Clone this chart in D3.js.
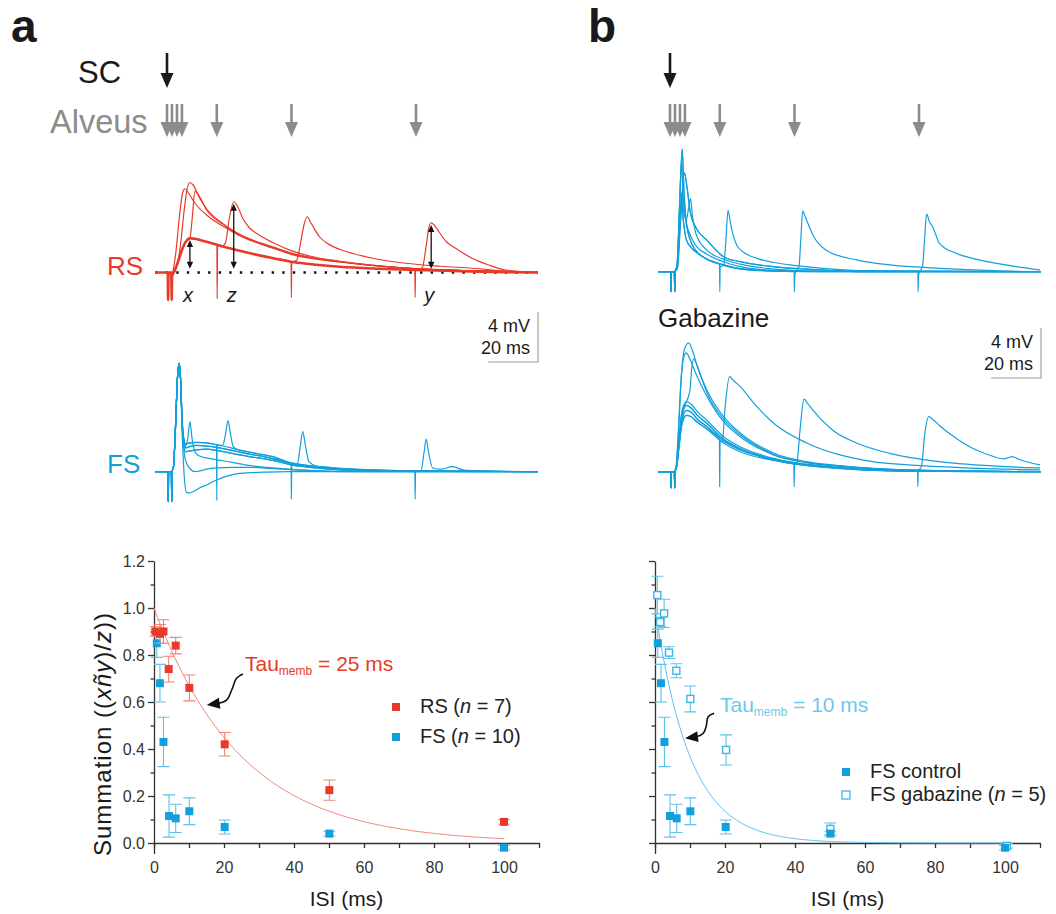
<!DOCTYPE html>
<html lang="en">
<head>
<meta charset="UTF-8">
<title>RS / FS summation</title>
<script src="https://d3js.org/d3.v7.min.js"></script>
<style>
  body { margin: 0; background: #fff; }
  svg { font-family: Arial, "Liberation Sans", sans-serif; }
  .axis text { font-size: 16px; fill: #333; }
  .axis path, .axis line { stroke: #333; stroke-width: 1.3; }
</style>
</head>
<body>
<div id="chart"></div>
<script>
// ---- summation vs ISI (ms) ----
const rsIsi = [0.4, 1.7, 2.7, 4.2, 6.2, 10.1, 20.2, 50.1, 100];
const rsSum = [0.90, 0.89, 0.90, 0.74, 0.84, 0.66, 0.42, 0.225, 0.09];
const rsErr = [0.02, 0.04, 0.05, 0.055, 0.035, 0.055, 0.05, 0.043, 0.01];

const fsIsi = [0.8, 1.7, 2.7, 4.3, 6.2, 10.1, 20.2, 50.1, 100];
const fsSum = [0.85, 0.68, 0.43, 0.115, 0.105, 0.135, 0.068, 0.04, -0.02];
const fsErr = [0.06, 0.08, 0.105, 0.09, 0.06, 0.057, 0.03, 0.01, 0.01];

const gbIsi = [0.66, 1.5, 2.6, 4.0, 6.1, 10.1, 20.3, 50.1, 100.5];
const gbSum = [1.055, 0.94, 0.977, 0.81, 0.733, 0.613, 0.396, 0.06, -0.012];
const gbErr = [0.08, 0.02, 0.06, 0.025, 0.03, 0.055, 0.064, 0.025, 0.01];

const tauRS = 25, tauFS = 10;
const sumTicks = [0, 0.2, 0.4, 0.6, 0.8, 1.0, 1.2];
const sumMinor = [0.1, 0.3, 0.5, 0.7, 0.9, 1.1];
const isiTicks = [0, 10, 20, 30, 40, 50, 60, 70, 80, 90, 100, 110];
const isiLabels = [0, 20, 40, 60, 80, 100];

// ---- stimulus times (ms) ----
const scTime = 0;
const alveusTimes = [0, 2, 4, 6, 20, 50, 100];

// ---- traces: [ms, mV] read from the recordings ----
const rsX = [[-4.8,0],[0.3,0],[0.45,-2.2],[0.6,0],[1.75,0],[1.9,-2.2],[2.05,-0.3],[3,0.1],[4.5,0.9],[6,1.8],[7.5,2.45],[9.2,2.74],[11,2.7],[15.9,2.46],[22,2.1],[29.2,1.74],[40,1.25],[49.9,0.86],[60,0.62],[69.2,0.46],[85,0.3],[99.6,0.2],[115,0.12],[130,0.05],[149,0]];
const rsA = [[2.6,0.3],[3.5,1.5],[5,4.5],[6.3,6.4],[7.2,6.7],[8.5,6.4],[11,5.6],[15.9,4.6],[22.5,3.7],[29.2,2.95],[42.5,1.95],[49.9,1.45],[69.2,0.84],[95.9,0.33],[122.5,0.13],[149,0]];
const rsB = [[3,0.2],[4,0.6],[5.3,2],[6.8,4.8],[8,6.6],[9.2,7.2],[10.5,7.0],[13,6.0],[15.9,5.1],[22.5,3.9],[29.2,3.05],[42.5,2.05],[49.9,1.55],[69.2,0.9],[95.9,0.36],[122.5,0.15],[149,0]];
const rsC = [[10.2,4.5],[11.2,6.5],[12.3,6.3],[15.9,5.0],[22.5,3.85],[29.2,3.0],[42.5,2.0],[49.9,1.5],[69.2,0.86],[95.9,0.35],[122.5,0.14],[149,0]];
const rsZ = [[20.05,2.2],[20.15,-2.1],[20.3,2.15],[22,2.08],[23.5,2.4],[25,4.3],[26.8,5.66],[28.3,5.3],[30.5,4.3],[33,3.6],[37,3.0],[42.5,2.4],[49.9,1.75],[60,1.2],[69.2,0.9],[95.9,0.36],[122.5,0.14],[149,0]];
const rs50 = [[49.85,0.86],[49.95,-2.0],[50.1,0.85],[52,0.95],[53.5,2.2],[55,3.8],[56.3,4.46],[58,3.9],[61.2,2.86],[65,2.25],[69.2,1.86],[75,1.5],[82.5,1.14],[95.9,0.74],[110,0.5],[122.5,0.34],[135.9,0.12],[149,0]];
const rs100 = [[99.55,0.2],[99.65,-2.0],[99.8,0.2],[102.5,0.35],[104,2.0],[105.2,3.6],[106.1,3.98],[107.5,3.75],[109.2,3.26],[112,2.5],[115.9,1.94],[122.5,1.14],[129.2,0.6],[135.9,0.2],[149,0]];

const fsPre = [[-4.8,0],[0.35,0],[0.5,-2.4],[0.65,0],[1.75,0],[1.9,-2.4],[2.05,0],[2.6,0.4],[3.4,3.5],[4.2,7.5],[4.9,8.67],[5.5,7.2]];
const fsP1 = [[6.0,4.5],[6.6,2.8],[7.5,2.2],[9,2.3],[12,2.35],[16,2.3],[20,2.15],[25,1.95],[32,1.6],[42.5,1.2],[49.9,0.7],[60,0.42],[69.2,0.27],[85,0.12],[110,0.05],[149,0]];
const fsP2 = [[6.0,4.3],[6.6,2.6],[7.5,1.9],[9,2.0],[12,2.1],[16,2.05],[20,1.95],[25,1.75],[32,1.45],[42.5,1.05],[49.9,0.6],[60,0.35],[69.2,0.2],[85,0.1],[110,0.05],[149,0]];
const fsP3 = [[6.0,4.2],[6.6,2.4],[7.5,1.6],[9,1.65],[12,1.75],[16,1.8],[20,1.7],[25,1.5],[32,1.25],[42.5,0.9],[49.9,0.55],[60,0.3],[69.2,0.15],[90,0.05],[149,0]];
const fs10 = [[6.0,4.5],[6.6,2.8],[7.3,2.0],[8.3,2.6],[9.2,4.0],[10.1,2.6],[11.2,1.6],[13,1.25],[16,1.1],[20,0.95],[26,0.75],[33,0.5],[42.5,0.3],[55,0.12],[75,0],[149,0]];
const fsH1 = [[6.0,3.5],[6.5,1.2],[7.0,-0.6],[7.9,-1.68],[9,-1.7],[10.5,-1.6],[13,-1.3],[15.9,-1.06],[19.9,-0.66],[24,-0.35],[29.3,-0.13],[40,-0.03],[49.3,0],[149,0]];
const fsH2 = [[6.0,4.0],[6.6,2.2],[7.3,1.0],[9,0.3],[11.2,0],[13,0.05],[16,0.2],[20,0.3],[26,0.35],[33,0.35],[42.5,0.25],[55,0.12],[70,0.03],[149,0]];
const fs20 = [[19.9,2.15],[20.0,-2.3],[20.1,2.15],[22.3,2.1],[23.5,3.0],[24.5,4.08],[25.5,3.0],[26.6,2.0],[28,1.8],[32,1.6],[42.5,1.2],[49.9,0.7],[60,0.42],[69.2,0.27],[85,0.12],[110,0.05],[149,0]];
const fs50 = [[49.85,0.6],[49.95,-2.2],[50.1,0.6],[52.3,0.55],[53.5,2.0],[54.5,3.2],[55.5,2.2],[57,0.8],[60,0.45],[69.2,0.25],[85,0.1],[110,0.05],[149,0]];
const fs100 = [[99.55,0],[99.65,-2.2],[99.8,0],[102,0.05],[103.2,1.5],[104.1,2.6],[105,1.6],[106.7,0.3],[110,0.2],[114.5,0.4],[120,0.1],[149,0]];

const ctlPre = [[-4.8,0],[0.3,0],[0.45,-1.6],[0.6,0],[1.75,0],[1.9,-1.6],[2.05,0]];
const ctl1 = [[2.8,0.5],[3.8,5],[4.9,9.8],[5.6,6.5],[6.5,4.0],[8,2.6],[10,1.8],[14.9,1.0],[21.5,0.55],[28.2,0.25],[40,0.08],[55,0],[149,0]];
const ctl2 = [[2.8,0.4],[3.7,4.5],[4.6,8.7],[5.3,6.0],[6.2,4.2],[8,3.0],[10,2.2],[14.9,1.4],[21.5,0.8],[28.2,0.4],[40,0.12],[60,0],[149,0]];
const ctl3 = [[3,0.3],[4.2,4],[5.8,7.9],[6.8,6.8],[8.2,4.7],[10.5,3.5],[14.9,2.5],[21.5,1.2],[28.2,0.8],[41.5,0.4],[60,0.15],[80,0],[149,0]];
const ctl4 = [[2.8,0.3],[3.8,3.2],[4.6,6.3],[5.5,4.8],[6.6,4.2],[7.4,5.0],[8.2,5.87],[9,4.5],[10.5,3.0],[14.9,1.7],[21.5,1.0],[28.2,0.6],[40,0.25],[60,0.05],[149,0]];
const ctl5 = [[2.8,0.3],[3.6,2.5],[4.6,5.5],[5.4,4.0],[6.5,2.6],[8.2,2.0],[11,1.5],[14.9,1.0],[21.5,0.5],[28.2,0.2],[40,0.05],[149,0]];
const ctl20 = [[19.9,0.6],[20.0,-1.6],[20.15,0.4],[21.5,0.5],[22.3,2.0],[23.3,4.88],[24.2,4.0],[24.9,3.3],[26.9,2.1],[30,1.5],[34.9,1.07],[48.2,0.54],[61.5,0.27],[80,0.08],[149,0]];
const ctl50 = [[49.85,0],[49.95,-1.6],[50.1,-0.3],[50.6,0.05],[51.8,0.4],[52.5,2.5],[53.3,4.86],[54.1,4.5],[54.9,4.1],[57.5,2.9],[62.9,1.7],[74.9,0.94],[88.2,0.54],[108.2,0.27],[130,0.08],[149,0]];
const ctl100 = [[99.55,0],[99.65,-1.6],[99.8,-0.3],[100.4,0.05],[101.4,0.4],[102.2,2.5],[103.1,4.6],[104.2,4.0],[105.5,3.6],[108.2,2.27],[114.9,1.47],[121.5,1.07],[134.9,0.54],[148.6,0.14]];

const gbPre = [[-4.8,0],[0.3,0],[0.45,-1.3],[0.6,0],[1.75,0],[1.9,-1.3],[2.05,0]];
const gbBig1 = [[2.6,0.5],[3.5,3.5],[4.5,7.5],[5.8,9.8],[7.5,10.3],[9,9.7],[11,8.4],[14.9,6.5],[21.5,4.4],[28.2,3.1],[41.5,1.5],[54.9,0.8],[70,0.45],[81.5,0.27],[110,0.08],[149,0]];
const gbBig2 = [[2.5,0.5],[3.4,3.5],[4.5,7.5],[5.6,9.2],[6.6,9.5],[8,9.0],[10.5,7.8],[14.9,6.0],[21.5,4.0],[28.2,2.8],[41.5,1.35],[54.9,0.72],[70,0.4],[81.5,0.24],[110,0.07],[149,0]];
const gbBig3 = [[8.0,6.5],[8.8,8.4],[9.5,9.0],[10.5,8.7],[12.5,7.6],[14.9,6.3],[21.5,4.2],[28.2,2.95],[41.5,1.4],[54.9,0.75],[70,0.42],[81.5,0.25],[110,0.07],[149,0]];
const gbS1 = [[2.6,0.4],[3.6,2.5],[4.8,4.8],[6.6,5.6],[8.5,5.4],[11,4.8],[14.9,4.1],[21.5,2.8],[28.2,2.0],[41.5,1.07],[54.9,0.6],[70,0.3],[81.5,0.15],[110,0.03],[149,0]];
const gbS2 = [[2.6,0.4],[3.6,2.3],[4.8,4.5],[6.6,5.3],[8.5,5.1],[11,4.5],[14.9,3.85],[21.5,2.6],[28.2,1.85],[41.5,1.0],[54.9,0.55],[70,0.27],[81.5,0.13],[110,0.02],[149,0]];
const gbS3 = [[2.6,0.35],[3.6,2.1],[4.8,4.1],[6.6,4.9],[8.5,4.75],[11,4.2],[14.9,3.6],[21.5,2.45],[28.2,1.75],[41.5,0.95],[54.9,0.5],[70,0.25],[81.5,0.12],[110,0.02],[149,0]];
const gbS4 = [[2.6,0.3],[3.6,1.9],[4.8,3.8],[6.6,4.5],[8.5,4.4],[11,3.95],[14.9,3.4],[21.5,2.3],[28.2,1.6],[41.5,0.9],[54.9,0.48],[70,0.22],[81.5,0.1],[110,0.02],[149,0]];
const gb20 = [[19.85,2.55],[19.95,-1.2],[20.1,2.4],[21,2.45],[22.2,5.3],[23.9,7.6],[25.5,7.3],[28.2,6.8],[34.9,5.2],[41.5,3.9],[54.9,2.3],[68.2,1.34],[81.5,0.8],[108.2,0.4],[130,0.22],[148.6,0.14]];
const gb50 = [[49.75,0.65],[49.85,-1.2],[50.0,0.5],[51,0.75],[52.3,3.5],[53.8,5.8],[55.5,5.4],[57.5,4.9],[65.5,3.3],[74.9,2.3],[88.2,1.47],[108.2,0.8],[134.9,0.4],[148.6,0.3]];
const gb100 = [[99.45,0.05],[99.55,-1.2],[99.7,0],[101,0.45],[102.3,3.0],[103.9,4.4],[105.5,4.2],[108.2,3.7],[114.9,2.67],[121.5,1.87],[128.2,1.34],[134,1.02],[135.5,1.1],[137.5,1.2],[140,1.0],[148.6,0.54]];

// ---- colours ----
const red = '#e8392a', redLight = '#f08478';
const blue = '#12a0dc', blueLight = '#5fc2ec', blueText = '#6ec8ee';
const gray = '#8c8c8c';

const upTo = (arr, t) => arr.filter(p => p[0] < t);

const svg = d3.select('#chart').append('svg')
  .attr('width', 1056).attr('height', 914);
svg.append('rect').attr('width', 1056).attr('height', 914).attr('fill', '#fff');

// ---- scales ----
const tA = d3.scaleLinear().domain([0, 100]).range([167, 416]);
const tB = d3.scaleLinear().domain([0, 100]).range([670, 919]);
const vRS = d3.scaleLinear().domain([0, 4]).range([272.5, 222.5]);
const vFS = d3.scaleLinear().domain([0, 4]).range([471.7, 421.7]);
const vCtl = d3.scaleLinear().domain([0, 4]).range([271.7, 221.7]);
const vGb = d3.scaleLinear().domain([0, 4]).range([471.7, 421.7]);

const xSumA = d3.scaleLinear().domain([0, 110]).range([154, 539]);
const xSumB = d3.scaleLinear().domain([0, 110]).range([655, 1040]);
const ySum = d3.scaleLinear().domain([-0.045, 1.2]).range([853.575, 561]);

// ---- panel letters ----
svg.append('text').attr('x', 11).attr('y', 42).attr('font-size', 46).attr('font-weight', 'bold').attr('fill', '#1a1a1a').text('a');
svg.append('text').attr('x', 588).attr('y', 42).attr('font-size', 46).attr('font-weight', 'bold').attr('fill', '#1a1a1a').text('b');

// ---- stimulus arrows ----
function stimArrow(x, yTop, yTip, color) {
  svg.append('line').attr('x1', x).attr('x2', x).attr('y1', yTop).attr('y2', yTip - 10)
    .attr('stroke', color).attr('stroke-width', 2.6);
  svg.append('path').attr('d', `M${x - 6.5},${yTip - 15}L${x + 6.5},${yTip - 15}L${x},${yTip}Z`).attr('fill', color);
}
svg.append('text').attr('x', 78).attr('y', 83).attr('font-size', 31).attr('fill', '#1a1a1a').text('SC');
svg.append('text').attr('x', 50).attr('y', 133).attr('font-size', 32.5).attr('fill', gray).text('Alveus');
[tA, tB].forEach(tx => {
  stimArrow(tx(scTime), 53, 88, '#1a1a1a');
  alveusTimes.forEach(t => stimArrow(tx(t), 104, 137, gray));
});

// ---- traces ----
function drawTraces(list, tx, vy, color) {
  const line = d3.line().x(p => tx(p[0])).y(p => vy(p[1])).curve(d3.curveMonotoneX);
  svg.append('g').selectAll('path').data(list).join('path')
    .attr('d', d => line(d.pts))
    .attr('fill', 'none').attr('stroke', color)
    .attr('stroke-width', d => d.w || 1.2)
    .attr('stroke-linejoin', 'round');
}

// RS, left
svg.append('line').attr('x1', tA(-4.8)).attr('x2', tA(149)).attr('y1', vRS(0)).attr('y2', vRS(0))
  .attr('stroke', '#111').attr('stroke-width', 2.4).attr('stroke-dasharray', '2.4,8.2');
drawTraces([
  { pts: upTo(rsX, 2.1).concat(rsA) },
  { pts: upTo(rsX, 2.1).concat(rsB) },
  { pts: upTo(rsX, 9.3).concat(rsC) },
  { pts: upTo(rsX, 20).concat(rsZ) },
  { pts: upTo(rsX, 49.8).concat(rs50) },
  { pts: upTo(rsX, 99.5).concat(rs100) },
  { pts: rsX, w: 2.6 }
], tA, vRS, red);

// x / z / y measurement arrows
function dblArrow(x, y1, y2) {
  svg.append('line').attr('x1', x).attr('x2', x).attr('y1', y1 - 5).attr('y2', y2 + 5)
    .attr('stroke', '#111').attr('stroke-width', 1.3);
  svg.append('path').attr('d', `M${x - 3.2},${y1 - 7}L${x + 3.2},${y1 - 7}L${x},${y1}Z`).attr('fill', '#111');
  svg.append('path').attr('d', `M${x - 3.2},${y2 + 7}L${x + 3.2},${y2 + 7}L${x},${y2}Z`).attr('fill', '#111');
}
const measures = [
  { name: 'x', t: 9.2, v: 2.6 },
  { name: 'z', t: 26.8, v: 5.5 },
  { name: 'y', t: 106.1, v: 3.8 }
];
measures.forEach(m => {
  dblArrow(tA(m.t), vRS(0.3), vRS(m.v));
  svg.append('text').attr('x', tA(m.t) - 2).attr('y', 302).attr('text-anchor', 'middle')
    .attr('font-size', 20).attr('font-style', 'italic').attr('fill', '#1a1a1a').text(m.name);
});
svg.append('text').attr('x', 107).attr('y', 275).attr('font-size', 26).attr('fill', red).text('RS');

// FS, left
const fsFull = b => fsPre.concat(b);
drawTraces([
  { pts: fsFull(fsP1) },
  { pts: fsFull(fsP2) },
  { pts: fsFull(fsP3) },
  { pts: fsFull(fs10) },
  { pts: fsFull(fsH1) },
  { pts: fsFull(fsH2) },
  { pts: upTo(fsFull(fsP1), 19.85).concat(fs20) },
  { pts: upTo(fsFull(fsP2), 49.8).concat(fs50) },
  { pts: upTo(fsFull(fsP3), 99.5).concat(fs100) }
], tA, vFS, blue);
svg.append('text').attr('x', 107).attr('y', 473).attr('font-size', 26).attr('fill', blue).text('FS');

// control, right
const ctlFull = b => ctlPre.concat(b);
drawTraces([
  { pts: ctlFull(ctl1) },
  { pts: ctlFull(ctl2) },
  { pts: ctlFull(ctl3) },
  { pts: ctlFull(ctl4) },
  { pts: ctlFull(ctl5) },
  { pts: upTo(ctlFull(ctl5), 19.85).concat(ctl20) },
  { pts: upTo(ctlFull(ctl1), 49.8).concat(ctl50) },
  { pts: upTo(ctlFull(ctl3), 99.5).concat(ctl100) }
], tB, vCtl, blue);

// gabazine, right
const gbFull = b => gbPre.concat(b);
drawTraces([
  { pts: gbFull(gbS1) },
  { pts: gbFull(gbS2) },
  { pts: gbFull(gbS3) },
  { pts: gbFull(gbS4) },
  { pts: gbFull(gbBig1) },
  { pts: gbFull(gbBig2) },
  { pts: upTo(gbFull(gbS1), 7.3).concat(gbBig3) },
  { pts: upTo(gbFull(gbS4), 19.8).concat(gb20) },
  { pts: upTo(gbFull(gbS3), 49.7).concat(gb50) },
  { pts: upTo(gbFull(gbS2), 99.4).concat(gb100) }
], tB, vGb, blue);
svg.append('text').attr('x', 658).attr('y', 327).attr('font-size', 26).attr('fill', '#1a1a1a').text('Gabazine');

// scale bars: 4 mV, 20 ms
function scaleBar(tx, vy, yBottom) {
  const x1 = tx(129), x2 = tx(149);
  const h = vy(0) - vy(4);
  svg.append('path').attr('d', `M${x1},${yBottom}H${x2}V${yBottom - h}`)
    .attr('fill', 'none').attr('stroke', '#9a9a9a').attr('stroke-width', 1.1);
  svg.append('text').attr('x', x2 - 8).attr('y', yBottom - h * 0.6).attr('text-anchor', 'end')
    .attr('font-size', 18).attr('fill', '#1a1a1a').text('4 mV');
  svg.append('text').attr('x', x2 - 8).attr('y', yBottom - 8).attr('text-anchor', 'end')
    .attr('font-size', 18).attr('fill', '#1a1a1a').text('20 ms');
}
scaleBar(tA, vRS, 362);
scaleBar(tB, vGb, 378);

// ---- summation plots ----
function sumAxes(xs, labels) {
  svg.append('g').attr('class', 'axis').attr('transform', `translate(0,${ySum(0)})`)
    .call(d3.axisBottom(xs).tickValues(isiTicks).tickSize(5).tickSizeOuter(0).tickPadding(14)
      .tickFormat(d => isiLabels.includes(d) ? d : ''));
  svg.append('g').attr('class', 'axis').attr('transform', `translate(${xs(0)},0)`)
    .call(d3.axisLeft(ySum).tickValues(sumMinor).tickSize(3.5).tickFormat(''))
    .select('.domain').remove();
  svg.append('g').attr('class', 'axis').attr('transform', `translate(${xs(0)},0)`)
    .call(d3.axisLeft(ySum).tickValues(sumTicks).tickSize(6).tickSizeOuter(0).tickPadding(3)
      .tickFormat(labels ? d3.format('.1f') : ''));
  svg.append('text').attr('x', xs(55)).attr('y', 906).attr('text-anchor', 'middle')
    .attr('font-size', 21).attr('fill', '#1a1a1a').text('ISI (ms)');
}
sumAxes(xSumA, true);
sumAxes(xSumB, false);

// y title
const yTitle = svg.append('text').attr('transform', `translate(111,734) rotate(-90)`)
  .attr('text-anchor', 'middle').attr('font-size', 24).attr('letter-spacing', 1).attr('fill', '#1a1a1a');
[['Summation ((', false], ['xñy', true], [')/', false], ['z', true], ['))', false]]
  .forEach(([s, it]) => yTitle.append('tspan').attr('font-style', it ? 'italic' : 'normal').text(s));

// fit curves
function fitCurve(xs, tau, color) {
  const pts = d3.range(0, 100.01, 0.5).map(t => [t, Math.exp(-t / tau)]);
  svg.append('path').attr('d', d3.line().x(p => xs(p[0])).y(p => ySum(p[1]))(pts))
    .attr('fill', 'none').attr('stroke', color).attr('stroke-width', 1);
}
fitCurve(xSumA, tauRS, redLight);
fitCurve(xSumB, tauFS, blueLight);

function series(xs, isi, sum, err, fill, barColor, open) {
  const g = svg.append('g');
  isi.forEach((t, i) => {
    const x = xs(t), y0 = ySum(sum[i] - err[i]), y1 = ySum(sum[i] + err[i]);
    g.append('path').attr('d', `M${x},${y0}V${y1}M${x - 6},${y0}H${x + 6}M${x - 6},${y1}H${x + 6}`)
      .attr('stroke', barColor).attr('stroke-width', 1.1).attr('fill', 'none');
  });
  isi.forEach((t, i) => {
    const s = open ? 7 : 8;
    g.append('rect').attr('x', xs(t) - s / 2).attr('y', ySum(sum[i]) - s / 2)
      .attr('width', s).attr('height', s)
      .attr('fill', open ? '#fff' : fill)
      .attr('stroke', open ? fill : 'none').attr('stroke-width', 1.4);
  });
}
series(xSumA, fsIsi, fsSum, fsErr, blue, blueLight, false);
series(xSumA, rsIsi, rsSum, rsErr, red, redLight, false);
series(xSumB, gbIsi, gbSum, gbErr, '#3fb3e6', blueLight, true);
series(xSumB, fsIsi, fsSum, fsErr, blue, blueLight, false);

// curved pointer arrows to the fits (data coords)
const arrowRS = [[25.4, 0.719], [23.6, 0.701], [22.2, 0.651], [20.8, 0.609], [18.4, 0.594], [15.06, 0.587]];
const arrowFS = [[16.9, 0.552], [15.2, 0.537], [14.6, 0.495], [13.8, 0.467], [11.9, 0.452], [8.57, 0.446]];
function pointer(xs, pts) {
  const p = pts.map(d => [xs(d[0]), ySum(d[1])]);
  const tip = p[p.length - 1], prev = p[p.length - 2];
  const a = Math.atan2(tip[1] - prev[1], tip[0] - prev[0]);
  const L = 13, W = 5.5;
  const bx = tip[0] - L * Math.cos(a), by = tip[1] - L * Math.sin(a);
  const body = p.slice(0, -1).concat([[bx + 2 * Math.cos(a), by + 2 * Math.sin(a)]]);
  svg.append('path').attr('d', d3.line().curve(d3.curveCatmullRom)(body))
    .attr('fill', 'none').attr('stroke', '#111').attr('stroke-width', 1.6);
  svg.append('path').attr('d',
    `M${tip[0]},${tip[1]}L${bx - W * Math.sin(a)},${by + W * Math.cos(a)}L${bx + W * Math.sin(a)},${by - W * Math.cos(a)}Z`)
    .attr('fill', '#111');
}
pointer(xSumA, arrowRS);
pointer(xSumB, arrowFS);

// tau labels
function tauLabel(x, y, color, value) {
  const t = svg.append('text').attr('x', x).attr('y', y).attr('font-size', 21).attr('fill', color);
  t.append('tspan').text('Tau');
  t.append('tspan').attr('font-size', 12).attr('dy', 4).text('memb');
  t.append('tspan').attr('dy', -4).text(` = ${value} ms`);
}
tauLabel(245, 671, red, tauRS);
tauLabel(720, 712, blueText, tauFS);

// legends
function legendRow(x, y, color, open, parts) {
  const s = 8;
  svg.append('rect').attr('x', x - s / 2).attr('y', y - 6 - s / 2).attr('width', s).attr('height', s)
    .attr('fill', open ? '#fff' : color).attr('stroke', open ? color : 'none').attr('stroke-width', 1.3);
  const t = svg.append('text').attr('x', x + 24).attr('y', y).attr('font-size', 20).attr('fill', '#222');
  parts.forEach(([s2, it]) => t.append('tspan').attr('font-style', it ? 'italic' : 'normal').text(s2));
}
legendRow(396, 713, red, false, [['RS (', false], ['n', true], [' = 7)', false]]);
legendRow(396, 743, blue, false, [['FS (', false], ['n', true], [' = 10)', false]]);
legendRow(846, 778, blue, false, [['FS control', false]]);
legendRow(846, 801, '#3fb3e6', true, [['FS gabazine (', false], ['n', true], [' = 5)', false]]);
</script>
</body>
</html>
